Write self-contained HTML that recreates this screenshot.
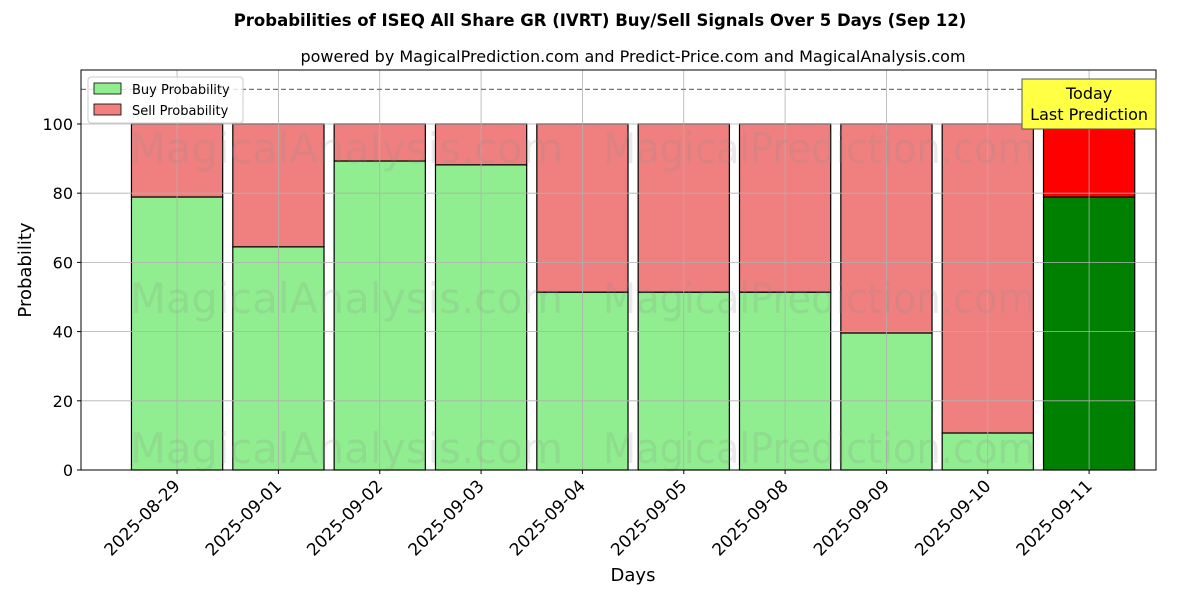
<!DOCTYPE html>
<html><head><meta charset="utf-8">
<style>
body{margin:0;background:#fff;font-family:"DejaVu Sans","Liberation Sans",sans-serif;}
svg text{font-family:"DejaVu Sans","Liberation Sans",sans-serif;}
</style></head>
<body>
<svg id="chart" width="1200" height="600" xmlns="http://www.w3.org/2000/svg">
<rect width="1200" height="600" fill="#fff"/>
<text x="600" y="26" text-anchor="middle" font-size="16.5" font-weight="bold">Probabilities of ISEQ All Share GR (IVRT) Buy/Sell Signals Over 5 Days (Sep 12)</text>
<text x="633" y="62" text-anchor="middle" font-size="16">powered by MagicalPrediction.com and Predict-Price.com and MagicalAnalysis.com</text>
<g id="bars"></g>
<g id="grid"></g>
<g id="wm" fill="#888" fill-opacity="0.18" font-size="42">
<text x="130" y="163" textLength="433" lengthAdjust="spacingAndGlyphs">MagicalAnalysis.com</text>
<text x="603" y="163" textLength="432" lengthAdjust="spacingAndGlyphs">MagicalPrediction.com</text>
<text x="130" y="313" textLength="433" lengthAdjust="spacingAndGlyphs">MagicalAnalysis.com</text>
<text x="603" y="313" textLength="432" lengthAdjust="spacingAndGlyphs">MagicalPrediction.com</text>
<text x="130" y="463" textLength="433" lengthAdjust="spacingAndGlyphs">MagicalAnalysis.com</text>
<text x="603" y="463" textLength="432" lengthAdjust="spacingAndGlyphs">MagicalPrediction.com</text>
</g>
<g id="axes"></g>
<text transform="translate(31,270) rotate(-90)" text-anchor="middle" font-size="18">Probability</text>
<text x="633" y="581" text-anchor="middle" font-size="18">Days</text>
<g>
<rect x="88" y="77" width="155" height="46" fill="#fff" fill-opacity="0.8" stroke="#ccc" rx="3"/>
<rect x="94" y="83" width="27" height="11" fill="#90ee90" stroke="#000" stroke-width="0.8"/>
<text x="132" y="94" font-size="13">Buy Probability</text>
<rect x="94" y="104" width="27" height="11" fill="#f08080" stroke="#000" stroke-width="0.8"/>
<text x="132" y="115" font-size="13">Sell Probability</text>
</g>
</svg>
<script>
const categories=["2025-08-29","2025-09-01","2025-09-02","2025-09-03","2025-09-04","2025-09-05","2025-09-08","2025-09-09","2025-09-10","2025-09-11"];
const buyValues=[78.9,64.5,89.3,88.2,51.4,51.4,51.4,39.6,10.7,78.9];
const sellValues=[21.1,35.5,10.7,11.8,48.6,48.6,48.6,60.4,89.3,21.1];
const yTicks=[0,20,40,60,80,100];
const NS="http://www.w3.org/2000/svg";
const L=81,R=1156,T=70,B=470,yMax=115.6,xMin=-0.948,xMax=9.66;
const y=v=>B-(v/yMax)*(B-T);
const x=i=>L+(i-xMin)/(xMax-xMin)*(R-L);
const bw=0.9*(x(1)-x(0));
function mk(tag,attrs,parent){const e=document.createElementNS(NS,tag);for(const k in attrs)e.setAttribute(k,attrs[k]);parent.appendChild(e);return e;}
const grid=document.getElementById('grid'),bars=document.getElementById('bars'),axes=document.getElementById('axes');
yTicks.forEach(t=>{
  const g=mk('line',{x1:L,x2:R,y1:y(t),y2:y(t),stroke:'#b0b0b0','stroke-width':0.8},grid);
  
  
  mk('line',{x1:L-4,x2:L,y1:y(t),y2:y(t),stroke:'#000'},axes);
  const tx=mk('text',{x:L-8,y:y(t)+6,'text-anchor':'end','font-size':16},axes);
  tx.textContent=t;
  
  
});
categories.forEach((c,i)=>{
  const g=mk('line',{x1:x(i),x2:x(i),y1:T,y2:B,stroke:'#b0b0b0','stroke-width':0.8},grid);
  
  
  const last=i===categories.length-1;
  const b=mk('rect',{x:x(i)-bw/2,y:y(buyValues[i]),width:bw,height:y(0)-y(buyValues[i]),fill:last?'#008000':'#90ee90',stroke:'#000','stroke-width':1.2},bars);
  
  
  const s=mk('rect',{x:x(i)-bw/2,y:y(buyValues[i]+sellValues[i]),width:bw,height:y(buyValues[i])-y(buyValues[i]+sellValues[i]),fill:last?'#ff0000':'#f08080',stroke:'#000','stroke-width':1.2},bars);
  
  
  mk('line',{x1:x(i),x2:x(i),y1:B,y2:B+4,stroke:'#000'},axes);
  const tx=mk('text',{x:0,y:0,'text-anchor':'end','font-size':17,transform:`translate(${x(i)+4},${B+17}) rotate(-45)`},axes);
  tx.textContent=c;
  
  
});
const dl=mk('line',{x1:L,x2:R,y1:y(110),y2:y(110),stroke:'#777','stroke-width':1.2,'stroke-dasharray':'5,3'},axes);


const fr=mk('rect',{x:L,y:T,width:R-L,height:B-T,fill:'none',stroke:'#000','stroke-width':1},axes);


const ann=mk('g',{},axes);


const li=categories.length-1;
mk('rect',{x:1022,y:79,width:134,height:50,fill:'#ffff44',stroke:'#555'},ann);
const t1=mk('text',{x:x(li),y:99,'text-anchor':'middle','font-size':16},ann);t1.textContent='Today';
const t2=mk('text',{x:x(li),y:120,'text-anchor':'middle','font-size':16},ann);t2.textContent='Last Prediction';
</script>
</body></html>
